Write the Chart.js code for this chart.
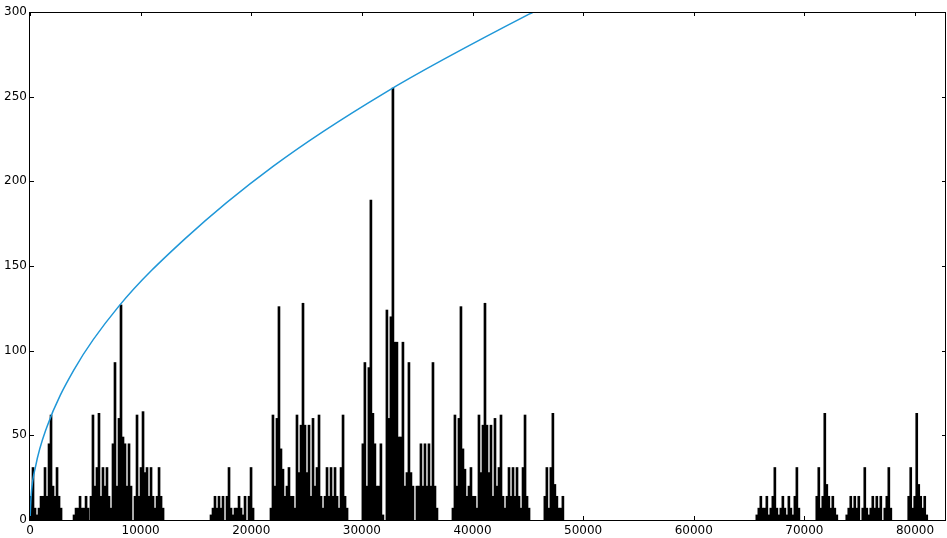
<!DOCTYPE html>
<html>
<head>
<meta charset="utf-8">
<script src="https://cdn.jsdelivr.net/npm/chart.js@4.4.0/dist/chart.umd.min.js"></script>
<style>
  html, body { margin: 0; padding: 0; background: #fff; }
  #wrap { width: 947px; height: 538px; }
</style>
</head>
<body>
<div id="wrap"><canvas id="myChart" width="947" height="538"></canvas></div>
<script>
// histogram bins
var binWidth = 181;
var clusterStarts = [0, 3890, 5420, 16270, 21690, 30000, 38140, 46450, 65610, 71030, 73740, 79340];

var heightsA = [14, 31, 7, 3, 7, 14, 14, 31, 14, 45, 62, 20, 14, 31, 14, 7];
var heightsB = [3, 7, 7, 14, 7, 7, 14, 7];
var heightsC = [14, 62, 20, 31, 63, 14, 31, 20, 31, 14, 7, 45, 93, 20, 60, 127, 49, 45, 20, 45,
                20, 0, 14, 62, 14, 31, 64, 28, 31, 14, 31, 14, 7, 14, 31, 14, 7];
var heightsD = [3, 7, 14, 7, 14, 7, 14, 0, 14, 31, 7, 3, 7, 7, 14, 7, 3, 14, 0, 14, 31, 7];
var heightsE = [7, 62, 20, 60, 126, 42, 30, 14, 20, 31, 14, 14, 7, 62, 28, 56, 128, 56, 28, 56,
                14, 60, 20, 31, 62, 14, 7, 14, 31, 14, 31, 14, 31, 14, 7, 31, 62, 14, 7];
var heightsF = [45, 93, 20, 90, 189, 63, 45, 20, 20, 45, 3, 0, 124, 60, 120, 255, 105, 105, 49, 49,
                105, 20, 28, 93, 28, 20, 0, 20, 20, 45, 20, 45, 20, 45, 20, 93, 20, 7];
var heightsG = [7, 62, 20, 60, 126, 42, 30, 14, 20, 31, 14, 14, 7, 62, 28, 56, 128, 56, 28, 56,
                14, 60, 20, 31, 62, 14, 7, 14, 31, 14, 31, 14, 31, 14, 7, 31, 62, 14, 7];
var heightsH = [14, 31, 7, 31, 63, 21, 14, 7, 7, 14];
var heightsI = [3, 7, 14, 7, 7, 14, 3, 7, 14, 31, 7, 3, 7, 14, 7, 3, 14, 7, 3, 14, 31, 7];
var heightsJ = [14, 31, 7, 14, 63, 21, 14, 7, 14, 7, 3];
var heightsK1 = [3, 7, 14, 7, 14, 7, 14, 0, 7, 31, 7, 3, 7, 14, 7, 14, 7, 14, 0, 7, 14, 31, 7];
var heightsK2 = [14, 31, 7, 14, 63, 21, 14, 7, 14, 3];

var clusterHeights = [heightsA, heightsB, heightsC, heightsD, heightsE, heightsF,
                      heightsG, heightsH, heightsI, heightsJ, heightsK1, heightsK2];

// blue curve, points
var curveX = [0, 100, 500, 1500, 4000, 8000, 14000, 22000, 32000, 45500, 48000];
var curveY = [0, 14, 31.5, 54.5, 89, 126, 166, 209, 252, 300, 308];

var xTicks = [0, 10000, 20000, 30000, 40000, 50000, 60000, 70000, 80000];
var yTicks = [0, 50, 100, 150, 200, 250, 300];

var bars = [];
clusterStarts.forEach(function (start, c) {
  clusterHeights[c].forEach(function (h, i) {
    if (h > 0) bars.push({ x: start + i * binWidth + binWidth / 2, y: h });
  });
});
var curve = curveX.map(function (x, i) { return { x: x, y: curveY[i] }; });

Chart.defaults.font.family = 'DejaVu Sans';
Chart.defaults.font.size = 12;
Chart.defaults.color = '#000';

// matplotlib style frame with inward ticks
var framePlugin = {
  id: 'frame',
  afterDraw: function (chart) {
    var ctx = chart.ctx, a = chart.chartArea;
    var xs = chart.scales.x, ys = chart.scales.y;
    ctx.save();
    ctx.strokeStyle = '#000';
    ctx.lineWidth = 1;
    ctx.beginPath();
    xTicks.forEach(function (v) {
      var p = Math.round(xs.getPixelForValue(v)) + 0.5;
      ctx.moveTo(p, a.bottom); ctx.lineTo(p, a.bottom - 4);
      ctx.moveTo(p, a.top); ctx.lineTo(p, a.top + 4);
    });
    yTicks.forEach(function (v) {
      var p = Math.round(ys.getPixelForValue(v)) + 0.5;
      ctx.moveTo(a.left, p); ctx.lineTo(a.left + 4, p);
      ctx.moveTo(a.right, p); ctx.lineTo(a.right - 4, p);
    });
    ctx.stroke();
    ctx.strokeRect(Math.round(a.left) - 0.5, Math.round(a.top) + 0.5,
                   Math.round(a.right - a.left), Math.round(a.bottom - a.top));
    ctx.restore();
  }
};

function fixedTicks(list) {
  return function (scale) {
    scale.ticks = list.map(function (v) { return { value: v }; });
  };
}

var ctx = document.getElementById('myChart').getContext('2d');
var myChart = new Chart(ctx, {
  type: 'bar',
  data: {
    datasets: [{
      type: 'line',
      data: curve,
      borderColor: '#1f97d8',
      borderWidth: 1.5,
      pointRadius: 0,
      cubicInterpolationMode: 'monotone',
      fill: false
    }, {
      type: 'bar',
      data: bars,
      backgroundColor: '#000',
      borderWidth: 0,
      barPercentage: 1,
      categoryPercentage: 1
    }]
  },
  plugins: [framePlugin],
  options: {
    responsive: false,
    animation: false,
    layout: { padding: { top: 12, right: 1, left: 0, bottom: 0 } },
    plugins: { legend: { display: false }, tooltip: { enabled: false } },
    scales: {
      x: {
        type: 'linear',
        min: 0,
        max: 82800,
        offset: false,
        grid: { display: false, drawTicks: false },
        border: { display: false },
        afterBuildTicks: fixedTicks(xTicks),
        ticks: { padding: 4, maxRotation: 0, autoSkip: false,
                 callback: function (v) { return String(v); } },
        afterFit: function (s) { s.height = 18; s.paddingRight = 0; s.paddingLeft = 0; }
      },
      y: {
        min: 0,
        max: 300,
        grid: { display: false, drawTicks: false },
        border: { display: false },
        afterBuildTicks: fixedTicks(yTicks),
        ticks: { padding: 3, callback: function (v) { return String(v); } },
        afterFit: function (s) { s.width = 30; s.paddingTop = 0; s.paddingBottom = 0; }
      }
    }
  }
});
</script>
</body>
</html>
